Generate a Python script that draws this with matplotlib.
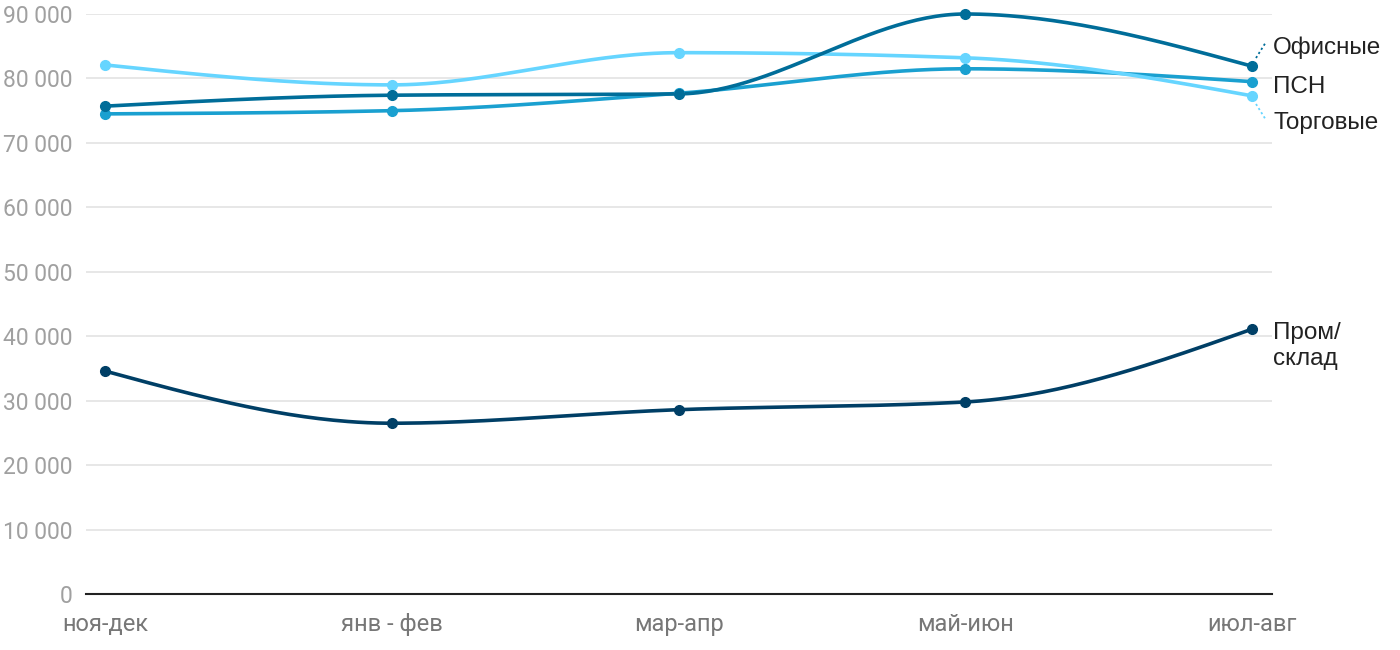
import numpy as np
import matplotlib
matplotlib.use("Agg")
import matplotlib.pyplot as plt

categories = ["ноя-дек", "янв - фев", "мар-апр", "май-июн", "июл-авг"]
offices = [75700, 77400, 77600, 90000, 81900]
psn = [74500, 75000, 77700, 81500, 79500]
retail = [82100, 79000, 84000, 83200, 77300]
industrial = [34600, 26500, 28600, 29800, 41100]
yticks = [0, 10000, 20000, 30000, 40000, 50000, 60000, 70000, 80000, 90000]

series = [
    ("Пром/\nсклад", industrial, "#003f66"),
    ("ПСН", psn, "#1aa0d0"),
    ("Торговые", retail, "#66d5ff"),
    ("Офисные", offices, "#006d99"),
]

plt.rcParams['font.family'] = ['Roboto', 'DejaVu Sans']


def monotone(x, y, n=60):
    x = np.asarray(x, float); y = np.asarray(y, float)
    h = np.diff(x); s = np.diff(y) / h
    m = np.zeros_like(y)
    for i in range(1, len(y) - 1):
        p = (s[i-1] * h[i] + s[i] * h[i-1]) / (h[i-1] + h[i])
        m[i] = (np.sign(s[i-1]) + np.sign(s[i])) * min(abs(s[i-1]), abs(s[i]), 0.5 * abs(p))
    m[0] = (3 * s[0] - m[1]) / 2 if len(y) > 2 else s[0]
    m[-1] = (3 * s[-1] - m[-2]) / 2 if len(y) > 2 else s[-1]
    xs, ys = [], []
    for i in range(len(h)):
        t = np.linspace(0, 1, n)
        h00 = 2*t**3 - 3*t**2 + 1; h10 = t**3 - 2*t**2 + t
        h01 = -2*t**3 + 3*t**2; h11 = t**3 - t**2
        xs.append(x[i] + t * h[i])
        ys.append(h00*y[i] + h10*h[i]*m[i] + h01*y[i+1] + h11*h[i]*m[i+1])
    return np.concatenate(xs), np.concatenate(ys)


fig = plt.figure(figsize=(14, 6.5), dpi=100)
ax = fig.add_axes([86/1400, 56/650, (1272-86)/1400, (594-14)/650])
x = np.arange(len(categories))
for name, vals, col in series:
    xs, ys = monotone(x, vals)
    ax.plot(xs, ys, color=col, lw=2.6, solid_capstyle='round', clip_on=False, zorder=3)
    ax.plot(x, vals, 'o', color=col, ms=7, clip_on=False, zorder=4)

ax.set_xlim(-19/286.75, 4 + 20/286.75)
ax.set_ylim(0, 90000)
ax.set_yticks(yticks)
ax.set_yticklabels([f"{v:,}".replace(",", " ") for v in yticks], color="#a0a0a0", fontsize=16.5)
ax.set_xticks(x)
ax.set_xticklabels(categories, color="#777777", fontsize=17)
ax.tick_params(axis='y', length=0, pad=10)
ax.tick_params(axis='x', length=0, pad=14)
ax.grid(axis='y', color="#e3e3e3", lw=1.2)
ax.set_axisbelow(True)
for sp in ['top', 'right', 'left']:
    ax.spines[sp].set_visible(False)
ax.spines['bottom'].set_color('#222222')
ax.spines['bottom'].set_linewidth(1.5)

px = 90000 / 580  # data units per pixel (y)
dx = 1 / 286.75   # data units per pixel (x)


def lab(ypix, text):
    ax.text(4 + 21 * dx, (594 - ypix) * px, text, va='center', ha='left',
            fontsize=17.5, color='#222222', family=['Liberation Sans', 'DejaVu Sans'],
            linespacing=1.2, clip_on=False)


lab(48, "Офисные")
lab(87, "ПСН")
lab(123, "Торговые")
lab(346, "Пром/\nсклад")
ax.plot([4 + 4 * dx, 4 + 14 * dx], [(594 - 58) * px, (594 - 42) * px], ls=(0, (1.2, 1.5)),
        color="#006d99", lw=1.3, clip_on=False)
ax.plot([4 + 4 * dx, 4 + 14 * dx], [(594 - 104) * px, (594 - 120) * px], ls=(0, (1.2, 1.5)),
        color="#66d5ff", lw=1.3, clip_on=False)

fig.savefig("out.png", dpi=100)
